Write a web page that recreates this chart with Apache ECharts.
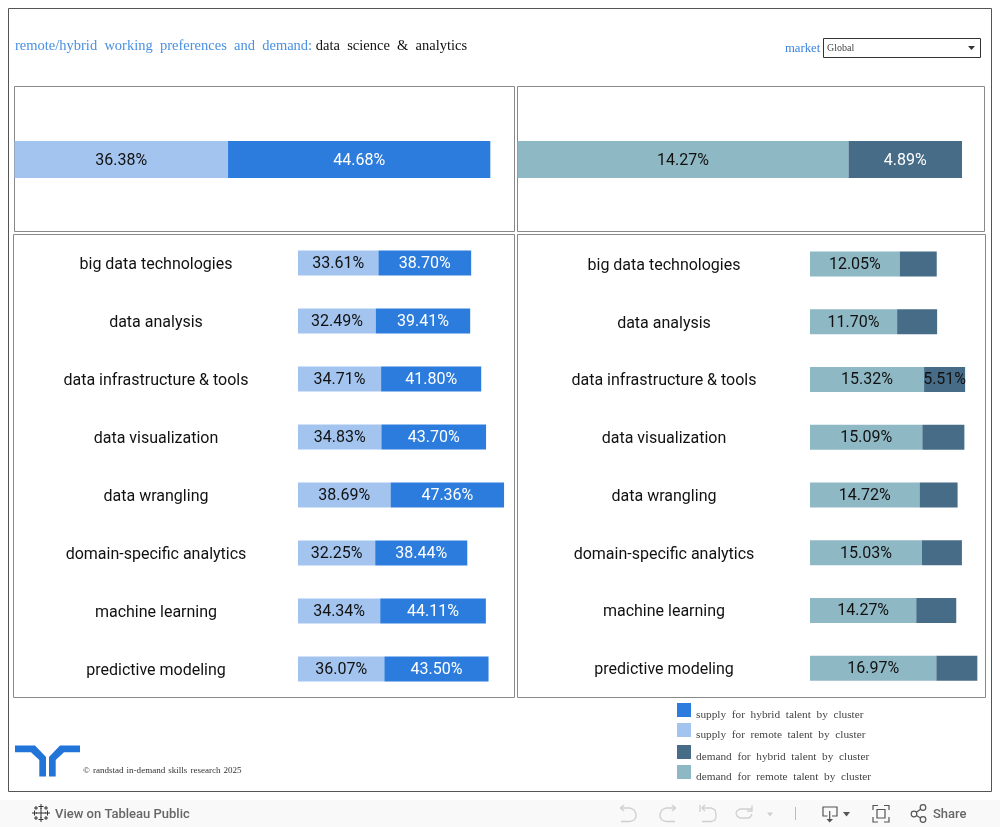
<!DOCTYPE html>
<html><head><meta charset="utf-8">
<style>html,body{margin:0;padding:0;background:#fff}#c{width:1000px;height:827px}</style>
<script src="https://cdn.jsdelivr.net/npm/echarts@6/dist/echarts.min.js"></script>
</head><body><div id="c"></div>
<script>
const categories = ['big data technologies','data analysis','data infrastructure & tools','data visualization','data wrangling','domain-specific analytics','machine learning','predictive modeling'];
const supplyRemote = [33.61,32.49,34.71,34.83,38.69,32.25,34.34,36.07];
const supplyHybrid = [38.70,39.41,41.80,43.70,47.36,38.44,44.11,43.50];
const demandRemote = [12.05,11.70,15.32,15.09,14.72,15.03,14.27,16.97];
const demandHybrid = [4.97,5.37,5.51,5.64,5.10,5.37,5.37,5.50];
const overallSupplyRemote = [36.38];
const overallSupplyHybrid = [44.68];
const overallDemandRemote = [14.27];
const overallDemandHybrid = [4.89];
const overallLabel = ['all clusters'];
const legendNames = ['supply for hybrid talent by cluster','supply for remote talent by cluster','demand for hybrid talent by cluster','demand for remote talent by cluster'];
const colors = {sh:'#2c7cdd',sr:'#a3c4ef',dh:'#476c87',dr:'#8fb8c5'};
const SERIF='"Liberation Serif"', SANS='Roboto';
const pct = p => p.value.toFixed(2)+'%';
const wide = s => s.replace(/ /g,'\u2002');

const grids=[
 {left:14.5,top:87,width:501,height:145},
 {left:517.5,top:87,width:467,height:145},
 {left:298,top:234,width:216,height:464},
 {left:810,top:235,width:175,height:462}
];
const maxes=[85.35,20.13,90.2,23.5];
const xAxis=grids.map((g,i)=>({gridIndex:i,type:'value',min:0,max:maxes[i],show:false}));
const yAxis=grids.map((g,i)=>({gridIndex:i,type:'category',inverse:true,data:i<2?overallLabel:categories,
  axisLine:{show:false},axisTick:{show:false},
  axisLabel:i<2?{show:false}:{show:true,align:'center',margin:i===2?142:146,formatter:s=>'{t|'+s+'}',
    rich:{t:{color:'#111',fontFamily:SANS,fontSize:16,padding:[4,0,0,0]}}}}));
function bar(i,name,data,color,barWidth,labelColor,showLabel){
  return {type:'bar',name,xAxisIndex:i,yAxisIndex:i,stack:'s'+i,data,barWidth,
    itemStyle:{color},animation:false,
    label:{show:showLabel,position:'inside',offset:[0,1],formatter:pct,color:labelColor,fontFamily:SANS,fontSize:16}};
}
const series=[
 bar(0,legendNames[1],overallSupplyRemote,colors.sr,37,'#111',true),
 bar(0,legendNames[0],overallSupplyHybrid,colors.sh,37,'#fff',true),
 bar(1,legendNames[3],overallDemandRemote,colors.dr,37,'#111',true),
 bar(1,legendNames[2],overallDemandHybrid,colors.dh,37,'#fff',true),
 bar(2,legendNames[1],supplyRemote,colors.sr,25,'#111',true),
 bar(2,legendNames[0],supplyHybrid,colors.sh,25,'#fff',true),
 bar(3,legendNames[3],demandRemote,colors.dr,25,'#111',true),
 bar(3,legendNames[2],demandHybrid.map((v,k)=>k===2?{value:v,label:{show:true,color:'#111'}}:v),colors.dh,25,'#111',false)
];
const legendTops=[703,723,745,765];
const legend=legendNames.map((n,i)=>({data:[n],left:677,top:legendTops[i],orient:'vertical',padding:0,itemWidth:14,itemHeight:14,itemGap:0,icon:'rect',selectedMode:false,
  formatter:s=>'{t|'+wide(s)+'}',textStyle:{rich:{t:{fontFamily:SERIF,fontSize:11.3,color:'#444',padding:[11,0,0,0]}}}}));

const frame=(x,y,w,h,stroke,lw)=>({type:'rect',silent:true,shape:{x,y,width:w,height:h},style:{fill:'none',stroke,lineWidth:lw||1}});
const txt=(x,y,text,fill,font,align)=>({type:'text',silent:true,x,y,style:{text,fill,font,textAlign:align||'left',textVerticalAlign:'middle'}});
const line=(x1,y1,x2,y2,stroke,lw)=>({type:'line',silent:true,shape:{x1,y1,x2,y2},style:{stroke,lineWidth:lw||1}});
const pl=(points,style)=>({type:'polyline',silent:true,shape:{points},style});
const pg=(points,fill)=>({type:'polygon',silent:true,shape:{points},style:{fill}});
const tb=[];
[[41,813,5],[34.5,813,2.5],[47.5,813,2.5],[41,806.5,2.5],[41,819.5,2.5],[36,808,2],[46,808,2],[36,818,2],[46,818,2]].forEach(([x,y,r])=>{
  tb.push(line(x-r,y,x+r,y,'#333',1),line(x,y-r,x,y+r,'#333',1));
});
const gl={stroke:'#cfcfcf',lineWidth:1.3,fill:'none'}, dl={stroke:'#555',lineWidth:1.2,fill:'none'};
const logoL=[[15,745.5],[35,745.5],[46,757],[46,776.5],[39.3,776.5],[39.3,760],[31,752.3],[15,752.3]];
const logoR=logoL.map(([x,y])=>[95-x,y]);
const graphic=[
 {type:'rect',silent:true,z:-1,shape:{x:0,y:800,width:1000,height:27},style:{fill:'#f9f9f9'}},
 frame(8.5,8.5,983,783,'#555',1),
 frame(14.5,86.5,500,145,'#888',1),
 frame(517.5,86.5,467,145,'#888',1),
 frame(13.5,234.5,501,463,'#888',1),
 frame(517.5,234.5,468,463,'#888',1),
 frame(823.5,38.5,157,19,'#333',1),
 txt(827,48.5,'Global','#444','10px '+SERIF),
 pg([[968,46],[975,46],[971.5,50]],'#333'),
 txt(785,49,'market','#3a84e0','12.7px '+SERIF),
 txt(83,770.5,'© randstad in-demand skills research 2025'.replace(/ /g,'\u2004'),'#333','9.05px '+SERIF),
 pg(logoL,'#2175d9'),
 pg(logoR,'#2175d9'),
 ...tb,
 txt(55,814.5,'View on Tableau Public','#666','500 13px '+SANS),
 pl([[624,805],[620.5,808],[624,811]],gl),
 pl([[620.5,808],[630,808],[634,810],[636,814],[636,817],[634,820],[630,821.5],[621,821.5]],gl),
 pl([[672,805],[675.5,808],[672,811]],gl),
 pl([[675.5,808],[666,808],[662,810],[660,814],[660,817],[662,820],[666,821.5],[675,821.5]],gl),
 pl([[700,805],[700,812]],gl),
 pl([[705,805],[702,808],[705,811]],gl),
 pl([[702,808],[711,808],[715,810],[716,814],[716,817],[715,820],[711,821.5],[702,821.5]],gl),
 pl([[752,805.5],[752,811],[747,811]],gl),
 pl([[752,809],[740,809],[737,811],[736,813],[737,816],[740,818],[749,818],[751,816],[752,814]],gl),
 pg([[767,812.5],[773,812.5],[770,816.5]],'#cfcfcf'),
 line(795.5,807,795.5,820,'#bbb',1),
 pl([[827.5,816],[823,816],[823,807],[837,807],[837,816],[832,816]],dl),
 pl([[829.7,811],[829.7,821]],dl),
 pg([[826.5,819],[833,819],[829.7,822.5]],'#555'),
 pg([[843,812],[850,812],[846.5,816.5]],'#555'),
 frame(877,809.5,8,8.5,'#555',1.2),
 pl([[873,810],[873,805.5],[878,805.5]],dl),pl([[884,805.5],[889,805.5],[889,810]],dl),
 pl([[889,817],[889,822],[884,822]],dl),pl([[878,822],[873,822],[873,817]],dl),
 pl([[923,807.5],[914,814],[923,819.5]],dl),
 {type:'circle',silent:true,shape:{cx:914,cy:814,r:2.8},style:{fill:'#f9f9f9',stroke:'#555',lineWidth:1.2}},
 {type:'circle',silent:true,shape:{cx:923,cy:807.5,r:2.8},style:{fill:'#f9f9f9',stroke:'#555',lineWidth:1.2}},
 {type:'circle',silent:true,shape:{cx:923,cy:819.5,r:2.8},style:{fill:'#f9f9f9',stroke:'#555',lineWidth:1.2}},
 txt(933,814.5,'Share','#666','500 13px '+SANS)
];
const tf={fontFamily:SERIF,fontSize:14.5,fontWeight:'normal'};
const title={left:15,top:38.5,padding:0,text:'{a|'+wide('remote/hybrid working preferences and demand:')+'}{b| }{c|'+wide('data science & analytics')+'}',
  textStyle:{fontWeight:'normal',rich:{a:{...tf,color:'#4a90e2'},b:tf,c:{...tf,color:'#111'}}}};
const chart=echarts.init(document.getElementById('c'));
chart.setOption({animation:false,backgroundColor:'#fff',title,grid:grids,xAxis,yAxis,series,legend,graphic,tooltip:{show:false}});
</script></body></html>
